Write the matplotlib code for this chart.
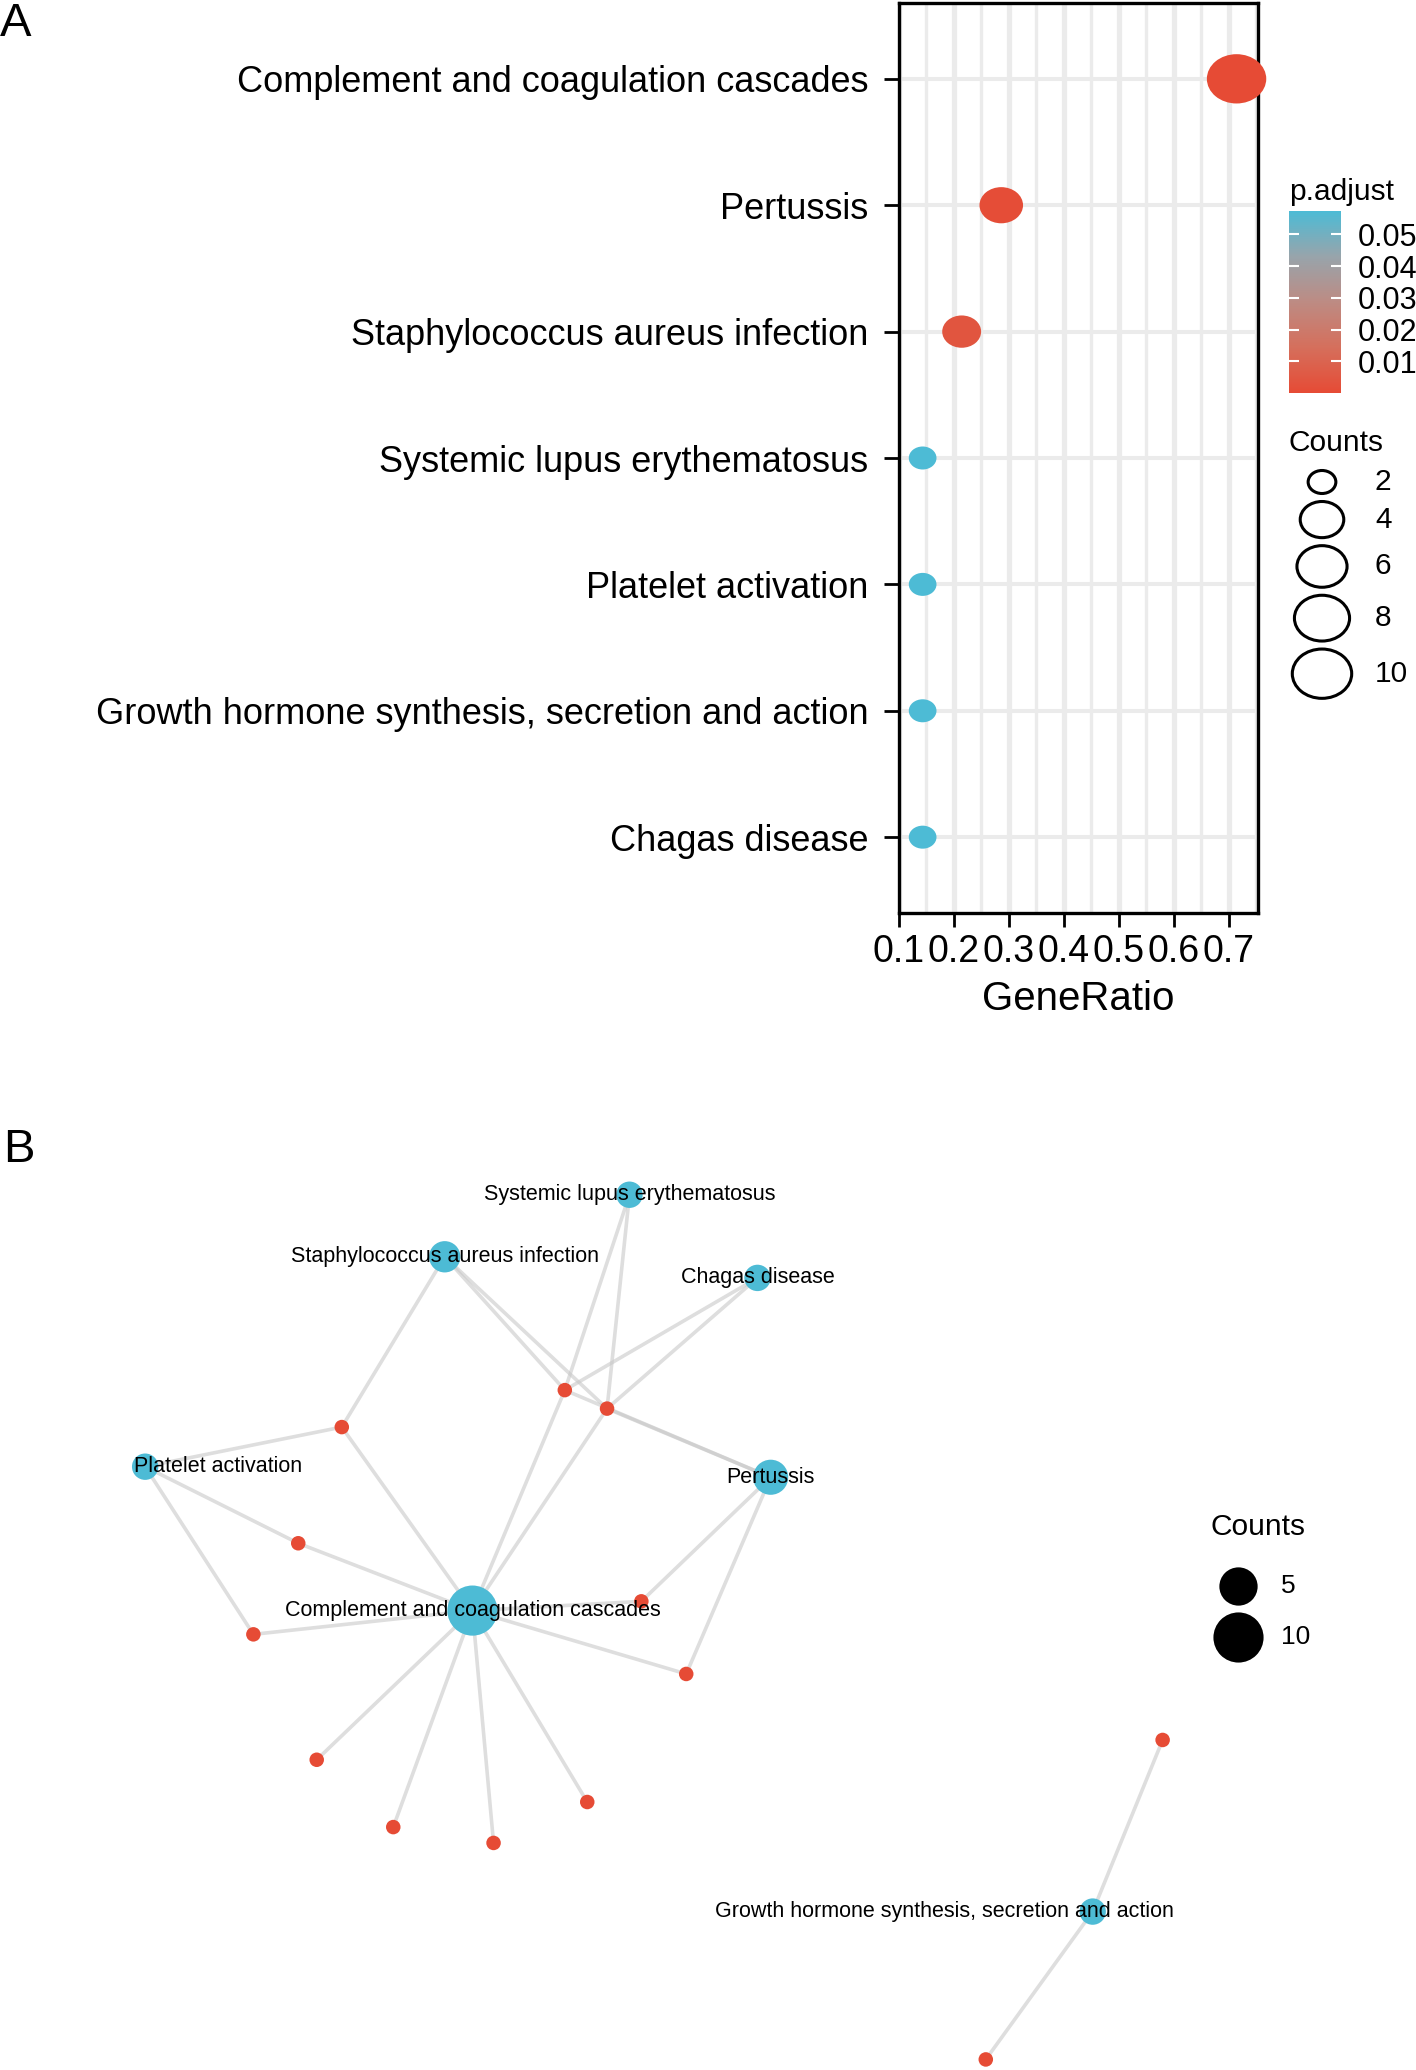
import numpy as np
import matplotlib
matplotlib.use("Agg")
import matplotlib.pyplot as plt
from matplotlib.path import Path
from matplotlib.colors import LinearSegmentedColormap, Normalize
from matplotlib.cm import ScalarMappable
from matplotlib import font_manager

# ---------------- data: panel A (KEGG dot plot)
pathways = ["Complement and coagulation cascades", "Pertussis",
            "Staphylococcus aureus infection", "Systemic lupus erythematosus",
            "Platelet activation", "Growth hormone synthesis, secretion and action",
            "Chagas disease"]
gene_ratio = [0.714, 0.286, 0.214, 0.143, 0.143, 0.143, 0.143]
counts = [10, 4, 3, 2, 2, 2, 2]
p_adjust = [0.00001, 0.0008, 0.004, 0.0574, 0.0574, 0.0574, 0.0574]
x_ticks = [0.1, 0.2, 0.3, 0.4, 0.5, 0.6, 0.7]
cb_ticks = [0.01, 0.02, 0.03, 0.04, 0.05]
legend_counts = [2, 4, 6, 8, 10]

# ---------------- data: panel B (cnet plot layout)
term_x = [358, 584, 337, 477, 110, 828, 574]
term_y = [1220, 1119, 952, 905, 1111, 1448, 968]
label_dx = [0, 0, 0, 0, 55, -112, 0]
gene_x = [428, 460, 259, 226, 486, 192, 520, 240, 445, 298, 374, 881, 747]
gene_y = [1053, 1067, 1081, 1169, 1213, 1238, 1268, 1333, 1365, 1384, 1396, 1318, 1560]
edges = {0: [0, 1, 2, 3, 4, 5, 6, 7, 8, 9, 10],
         1: [0, 1, 4, 6],
         2: [0, 1, 2],
         3: [0, 1],
         4: [2, 3, 5],
         5: [11, 12],
         6: [0, 1]}
net_legend = [5, 10]

RED = "#E64B35"
BLUE = "#4DBBD5"
cmap = LinearSegmentedColormap.from_list(
    "padj", ["#E64B35", "#D56F5C", "#BD8B83", "#98A4AB", "#4DBBD5"])
norm = Normalize(vmin=min(p_adjust), vmax=max(p_adjust))

plt.rcParams["font.family"] = ["Liberation Sans", "DejaVu Sans"]
names = {f.name for f in font_manager.fontManager.ttflist}
if "Liberation Sans Narrow" in names:
    net_font, net_size = "Liberation Sans Narrow", 18.5
else:
    net_font, net_size = "Liberation Sans", 15.5

W, H = 1416, 2070
fig = plt.figure(figsize=(W / 100, H / 100), dpi=100)

# dots in the original were stretched sideways a little
circ = Path.unit_circle()
ellipse = Path(circ.vertices * [1.0, 0.83], circ.codes)


def dot_pt(c):
    # ggplot area scale, width in points
    px = 1.32 * (21 + 24 * np.sqrt((np.asarray(c) - 2) / 8))
    return px * 0.72


# ---------------- panel A
ax = fig.add_axes([899 / W, 1 - 913 / H, 359 / W, 910 / H])
ypos = np.arange(len(pathways))[::-1] + 1
ax.scatter(gene_ratio, ypos, s=dot_pt(counts) ** 2, marker=ellipse,
           c=p_adjust, cmap=cmap, norm=norm, linewidths=0, clip_on=False, zorder=5)
ax.set_xlim(0.1, 0.753)
ax.set_ylim(0.4, len(pathways) + 0.6)
ax.set_xticks(x_ticks)
ax.set_xticklabels([f"{t:.1f}" for t in x_ticks], fontsize=27)
ax.set_xticks(np.array(x_ticks) + 0.05, minor=True)
ax.set_yticks(ypos)
ax.set_yticklabels(pathways, fontsize=26)
ax.grid(which="major", axis="x", color="#EBEBEB", lw=3.8)
ax.grid(which="minor", axis="x", color="#EBEBEB", lw=2.4)
ax.grid(which="major", axis="y", color="#EBEBEB", lw=2.9)
ax.set_axisbelow(True)
ax.tick_params(axis="y", length=11, width=2.0, pad=11)
ax.tick_params(axis="x", which="major", length=10, width=2.0, pad=5)
ax.tick_params(axis="x", which="minor", length=0)
for sp in ax.spines.values():
    sp.set_linewidth(2.4)
    sp.set_zorder(4)
ax.set_xlabel("GeneRatio", fontsize=29, labelpad=7)

fig.text(0 / W, 1 - 24 / H, "A", fontsize=34, va="center", ha="left")

# colour bar
cax = fig.add_axes([1289 / W, 1 - 393 / H, 52 / W, 182 / H])
cb = fig.colorbar(ScalarMappable(norm=norm, cmap=cmap), cax=cax)
cb.outline.set_visible(False)
cb.set_ticks(cb_ticks)
cb.set_ticklabels([f"{t:.2f}" for t in cb_ticks])
cax.minorticks_off()
cax.tick_params(direction="in", length=7, width=1.5, color="white",
                left=True, right=True, labelsize=22, pad=12)
fig.text(1289 / W, 1 - 192 / H, "p.adjust", fontsize=21.5, va="center", ha="left")

# size legend for panel A
ov = fig.add_axes([0, 0, 1, 1], zorder=10)
ov.set_xlim(0, W)
ov.set_ylim(H, 0)
ov.axis("off")
ov.text(1289, 443, "Counts", fontsize=21.5, va="center", ha="left")
widths = dot_pt(legend_counts) / 0.72
heights = widths * 0.83
yc = 482.0
for i, c in enumerate(legend_counts):
    if i > 0:
        yc += (heights[i - 1] + heights[i]) / 2 + 8
    ov.scatter([1322], [yc], s=(widths[i] * 0.72) ** 2, marker=ellipse,
               facecolors="none", edgecolors="black", linewidths=2.2)
    ov.text(1375, yc, str(c), fontsize=21.5, va="center", ha="left")

# ---------------- panel B
axb = fig.add_axes([0, 0, 1, 0.5])
axb.set_xlim(0, 1073)
axb.set_ylim(1568, 784)
axb.axis("off")


def node_pt(c):
    d = 11 + 27 * np.sqrt((np.asarray(c) - 1) / 9)
    return d * 1.3197 * 0.72


for t, genes in edges.items():
    for g in genes:
        axb.plot([term_x[t], gene_x[g]], [term_y[t], gene_y[g]],
                 color="#C8C8C8", alpha=0.6, lw=2.6, solid_capstyle="butt", zorder=1)
axb.scatter(gene_x, gene_y, s=node_pt(np.ones(len(gene_x))) ** 2, color=RED,
            linewidths=0, zorder=2)
axb.scatter(term_x, term_y, s=node_pt(counts) ** 2, color=BLUE, linewidths=0, zorder=2)
for i, name in enumerate(pathways):
    axb.text(term_x[i] + label_dx[i], term_y[i], name, fontsize=net_size,
             family=[net_font, "DejaVu Sans"], ha="center", va="center", zorder=3)

fig.text(3 / W, 1 - 1150 / H, "B", fontsize=34, va="center", ha="left")

axb.text(917, 1157, "Counts", fontsize=21.5, va="center", ha="left")
for i, c in enumerate(net_legend):
    yy = 1201 + 39 * i
    axb.scatter([938], [yy], s=node_pt(c) ** 2, color="black", linewidths=0)
    axb.text(971, yy, str(c), fontsize=19, va="center", ha="left")

fig.savefig("out.png", dpi=100, facecolor="white")
